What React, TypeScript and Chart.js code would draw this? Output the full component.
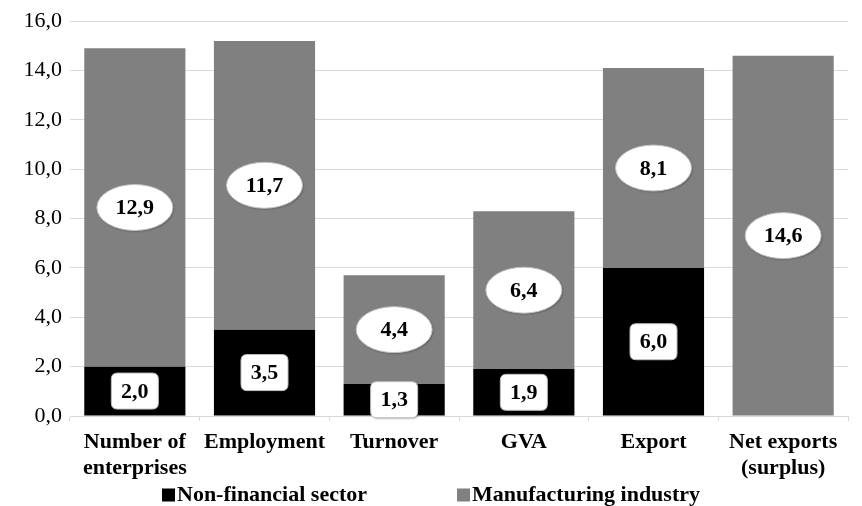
import React, { useEffect, useRef } from "react";
import { Chart, registerables } from "chart.js";

Chart.register(...registerables);

const categories: (string | string[])[] = [
  ["Number of", "enterprises"],
  "Employment",
  "Turnover",
  "GVA",
  "Export",
  ["Net exports", "(surplus)"],
];
const nonFinancial = [2.0, 3.5, 1.3, 1.9, 6.0, 0];
const manufacturing = [12.9, 11.7, 4.4, 6.4, 8.1, 14.6];
const seriesNames = ["Non-financial sector", "Manufacturing industry"];
const seriesColors = ["#000000", "#808080"];
const yMin = 0;
const yMax = 16;
const yStep = 2;

const FONT = "'Liberation Serif', 'Times New Roman', serif";
const fmt = (v: number) => v.toFixed(1).replace(".", ",");

function roundRect(ctx: CanvasRenderingContext2D, x: number, y: number, w: number, h: number, r: number) {
  ctx.beginPath();
  ctx.moveTo(x + r, y);
  ctx.lineTo(x + w - r, y);
  ctx.quadraticCurveTo(x + w, y, x + w, y + r);
  ctx.lineTo(x + w, y + h - r);
  ctx.quadraticCurveTo(x + w, y + h, x + w - r, y + h);
  ctx.lineTo(x + r, y + h);
  ctx.quadraticCurveTo(x, y + h, x, y + h - r);
  ctx.lineTo(x, y + r);
  ctx.quadraticCurveTo(x, y, x + r, y);
  ctx.closePath();
}

const labelPlugin = {
  id: "valueLabels",
  afterDatasetsDraw(chart: any) {
    const ctx: CanvasRenderingContext2D = chart.ctx;
    chart.data.datasets.forEach((ds: any, di: number) => {
      const meta = chart.getDatasetMeta(di);
      meta.data.forEach((el: any, i: number) => {
        const v = ds.data[i];
        if (!v) return;
        const cx = el.x;
        const cy = (el.y + el.base) / 2;
        ctx.save();
        ctx.shadowColor = "rgba(0,0,0,0.3)";
        ctx.shadowBlur = 2;
        ctx.shadowOffsetX = 1;
        ctx.shadowOffsetY = 1;
        ctx.fillStyle = "#ffffff";
        ctx.strokeStyle = "#bfbfbf";
        ctx.lineWidth = 1;
        if (di === 0) {
          const w = 47, h = 36;
          roundRect(ctx, cx - w / 2, cy - h / 2, w, h, 6);
        } else {
          ctx.beginPath();
          ctx.ellipse(cx, cy, 38, 23, 0, 0, Math.PI * 2);
        }
        ctx.fill();
        ctx.shadowColor = "transparent";
        ctx.stroke();
        ctx.fillStyle = "#000000";
        ctx.font = `bold 22px ${FONT}`;
        ctx.textAlign = "center";
        ctx.textBaseline = "middle";
        ctx.fillText(fmt(v), cx, cy + 1);
        ctx.restore();
      });
    });
  },
};

const legendPlugin = {
  id: "customLegend",
  afterDraw(chart: any) {
    const ctx: CanvasRenderingContext2D = chart.ctx;
    ctx.save();
    ctx.font = `bold 22px ${FONT}`;
    const box = 13;
    const gap = 2;
    const spacing = 90;
    const widths = chart.data.datasets.map((ds: any) => box + gap + ctx.measureText(ds.label).width);
    const total = widths.reduce((a: number, b: number) => a + b, 0) + spacing * (widths.length - 1);
    let x = (chart.width - total) / 2;
    const y = chart.height - 11;
    chart.data.datasets.forEach((ds: any, i: number) => {
      ctx.fillStyle = ds.backgroundColor;
      ctx.fillRect(x, y - box / 2, box, box);
      ctx.fillStyle = "#000000";
      ctx.textAlign = "left";
      ctx.textBaseline = "middle";
      ctx.fillText(ds.label, x + box + gap, y);
      x += widths[i] + spacing;
    });
    ctx.restore();
  },
};

export default function App() {
  const ref = useRef<HTMLCanvasElement>(null);
  useEffect(() => {
    let chart: Chart | null = null;
    let cancelled = false;
    const build = () => {
      if (cancelled || !ref.current) return;
      chart = new Chart(ref.current, {
        type: "bar",
        data: {
          labels: categories,
          datasets: [
            { label: seriesNames[0], data: nonFinancial, backgroundColor: seriesColors[0], borderWidth: 0 },
            { label: seriesNames[1], data: manufacturing, backgroundColor: seriesColors[1], borderWidth: 0 },
          ],
        },
        options: {
          animation: false,
          responsive: false,
          maintainAspectRatio: false,
          layout: { padding: { top: 10, right: 14, left: 0, bottom: 0 } },
          datasets: { bar: { categoryPercentage: 1, barPercentage: 0.78 } },
          plugins: { legend: { display: false }, tooltip: { enabled: false } },
          scales: {
            x: {
              stacked: true,
              grid: { display: true, drawOnChartArea: false, drawTicks: true, tickLength: 5, color: "#d9d9d9", offset: true },
              border: { display: true, color: "#d9d9d9" },
              ticks: {
                color: "#000000",
                font: { family: FONT, size: 22, weight: "bold", lineHeight: 1.2 },
                padding: 8,
                maxRotation: 0,
                autoSkip: false,
              },
              afterFit: (s: any) => { s.height = 90; },
            },
            y: {
              stacked: true,
              min: yMin,
              max: yMax,
              grid: { color: "#d9d9d9", drawTicks: false },
              border: { display: false },
              ticks: {
                stepSize: yStep,
                color: "#000000",
                font: { family: FONT, size: 22 },
                padding: 8,
                callback: (v: any) => fmt(Number(v)),
              },
              afterFit: (s: any) => { s.width = 70; },
            },
          },
        },
        plugins: [labelPlugin, legendPlugin],
      });
    };
    const fonts: any = (document as any).fonts;
    if (fonts && fonts.load) {
      Promise.all([
        fonts.load(`bold 22px 'Liberation Serif'`),
        fonts.load(`22px 'Liberation Serif'`),
      ]).then(build, build);
    } else {
      build();
    }
    return () => {
      cancelled = true;
      if (chart) chart.destroy();
    };
  }, []);
  return (
    <div style={{ position: "absolute", left: 0, top: 0, width: 862, height: 506, background: "#fff" }}>
      <canvas ref={ref} width={862} height={506} style={{ width: 862, height: 506 }} />
    </div>
  );
}
